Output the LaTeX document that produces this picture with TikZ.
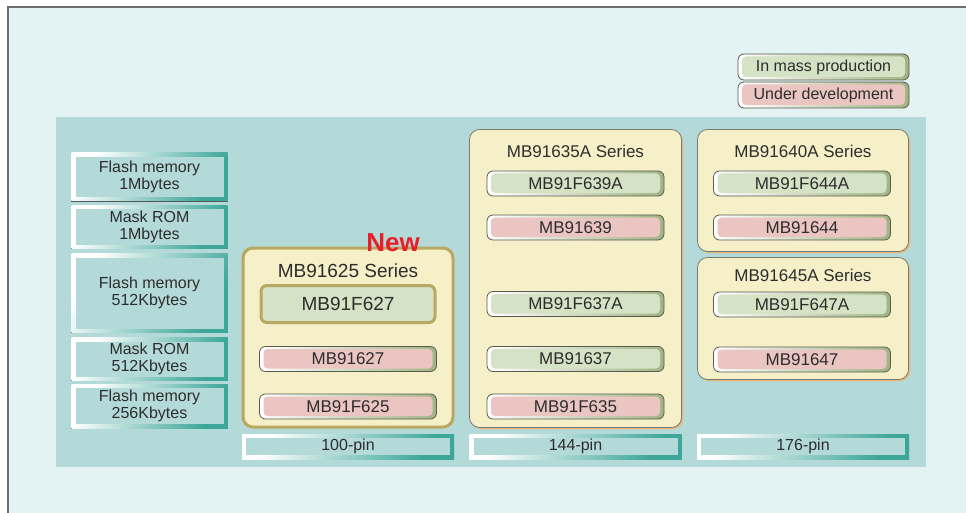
\documentclass[tikz,border=0pt]{standalone}
\usepackage{fontspec}
\setmainfont{Liberation Sans}
\usepackage{tikz}
\usetikzlibrary{positioning}
\definecolor{pagebg}{RGB}{227,242,242}
\definecolor{framegray}{RGB}{110,110,110}
\definecolor{panelteal}{RGB}{180,217,217}
\definecolor{rimteal}{RGB}{60,166,152}
\definecolor{rimdark}{RGB}{80,90,90}
\definecolor{cream}{RGB}{246,240,200}
\definecolor{chipgreen}{RGB}{212,226,197}
\definecolor{chippink}{RGB}{234,197,193}
\definecolor{rimolive}{RGB}{160,180,130}
\definecolor{chipedge}{RGB}{90,90,80}
\definecolor{newolive}{RGB}{185,168,98}
\definecolor{seriesorange}{RGB}{232,180,120}
\definecolor{textgray}{RGB}{45,45,45}
\definecolor{newred}{RGB}{232,30,40}
\newcommand{\fsz}[1]{\fontsize{#1}{17}\selectfont}
\tikzset{
  panelnode/.style={rectangle,fill=panelteal,inner sep=0pt},
  pinlabel/.style={rectangle,inner sep=0pt,minimum width=212pt,minimum height=25pt,
    top color=white,bottom color=rimteal,shading angle=60,text=textgray,font=\fsz{16},
    path picture={\fill[panelteal] ([shift={(4pt,-4pt)}]path picture bounding box.north west)
      rectangle ([shift={(-4pt,4pt)}]path picture bounding box.south east);}},
  memlabel/.style={pinlabel,minimum width=156pt,align=center,
    append after command={\pgfextra{\draw[rimdark,line width=1pt]
      (\tikzlastnode.south west) -- (\tikzlastnode.south east);}}},
  seriesbox/.style={rectangle,rounded corners=10pt,fill=cream,draw=chipedge!80,line width=0.8pt,
    preaction={fill=seriesorange,transform canvas={shift={(1.5pt,-1.5pt)}}}},
  newbox/.style={rectangle,rounded corners=10pt,fill=cream,draw=newolive,line width=3pt},
  chipbox/.style={rectangle,rounded corners=6pt,draw=chipedge,line width=0.8pt,
    minimum width=177pt,minimum height=25pt,inner sep=0pt,
    left color=white,right color=rimolive,text=textgray,font=\fsz{17}},
  prodchip/.style={chipbox,path picture={\fill[chipgreen,rounded corners=4pt]
      ([shift={(4pt,-2.5pt)}]path picture bounding box.north west)
      rectangle ([shift={(-4pt,3pt)}]path picture bounding box.south east);}},
  devchip/.style={chipbox,path picture={\fill[chippink,rounded corners=4pt]
      ([shift={(4pt,-2.5pt)}]path picture bounding box.north west)
      rectangle ([shift={(-4pt,3pt)}]path picture bounding box.south east);}},
  bigchip/.style={rectangle,rounded corners=6pt,fill=chipgreen,draw=newolive,line width=3pt,
    minimum width=174pt,minimum height=37pt,inner sep=0pt,text=textgray,font=\fsz{19}},
  seriestitle/.style={text=textgray,font=\fsz{17},inner sep=0pt}
}

\begin{document}
\begin{tikzpicture}[x=1pt,y=-1pt]
  \useasboundingbox (0,0) rectangle (966,513);
  \fill[pagebg] (8,7) rectangle (966,513);
  \draw[framegray,line width=1.5pt] (8,513) -- (8,7) -- (966,7);
  % legend
  \node[prodchip,minimum width=171pt,minimum height=26pt,font=\fsz{16}] (legprod) at (823.5,67) {In mass production};
  \node[devchip,minimum width=171pt,minimum height=26pt,font=\fsz{16}] (legdev) at (823.5,95) {Under development};
  % panel
  \node[panelnode,minimum width=870pt,minimum height=350pt] (panel) at (491,292) {};
  % memory column
  \node[memlabel,minimum height=48pt] (flash1m) at (149.5,177) {Flash memory\\1Mbytes};
  \node[memlabel,minimum height=43pt] (mask1m) at (149.5,227) {Mask ROM\\1Mbytes};
  \node[memlabel,minimum height=79pt] (flash512) at (149.5,293) {Flash memory\\512Kbytes};
  \node[memlabel,minimum height=43pt] (mask512) at (149.5,359) {Mask ROM\\512Kbytes};
  \node[memlabel,minimum height=44pt] (flash256) at (149.5,406) {Flash memory\\256Kbytes};
  % series boxes
  \node[newbox,minimum width=210pt,minimum height=179pt] (s625) at (348,337.5) {};
  \node[seriesbox,minimum width=212pt,minimum height=298pt] (s635) at (575.5,278.5) {};
  \node[seriesbox,minimum width=211pt,minimum height=122pt] (s640) at (803,190.5) {};
  \node[seriesbox,minimum width=211pt,minimum height=122pt] (s645) at (803,318.5) {};
  \node[seriestitle,font=\fsz{19}] (t625) at (348,271) {MB91625 Series};
  \node[seriestitle] (t635) at (575.5,151.5) {MB91635A Series};
  \node[seriestitle] (t640) at (803,151.5) {MB91640A Series};
  \node[seriestitle] (t645) at (803,275.5) {MB91645A Series};
  \node[font=\bfseries\fsz{26},text=newred,inner sep=0pt] (new) at (393,243) {New};
  % 100-pin
  \node[bigchip] (f627) at (348,304) {MB91F627};
  \node[devchip] (m627) at (348,359) {MB91627};
  \node[devchip] (f625) at (348,406.5) {MB91F625};
  % 144-pin
  \node[prodchip] (f639a) at (575.5,183.5) {MB91F639A};
  \node[devchip] (m639) at (575.5,227.5) {MB91639};
  \node[prodchip] (f637a) at (575.5,304) {MB91F637A};
  \node[prodchip] (m637) at (575.5,359) {MB91637};
  \node[devchip] (f635) at (575.5,406.5) {MB91F635};
  % 176-pin
  \node[prodchip] (f644a) at (802,183.5) {MB91F644A};
  \node[devchip] (m644) at (802,227.5) {MB91644};
  \node[prodchip] (f647a) at (802,304.5) {MB91F647A};
  \node[devchip] (m647) at (802,359.5) {MB91647};
  % pin counts
  \node[pinlabel] (pin100) at (348,446.5) {100-pin};
  \node[pinlabel] (pin144) at (575.5,446.5) {144-pin};
  \node[pinlabel] (pin176) at (803,446.5) {176-pin};
\end{tikzpicture}
\end{document}
